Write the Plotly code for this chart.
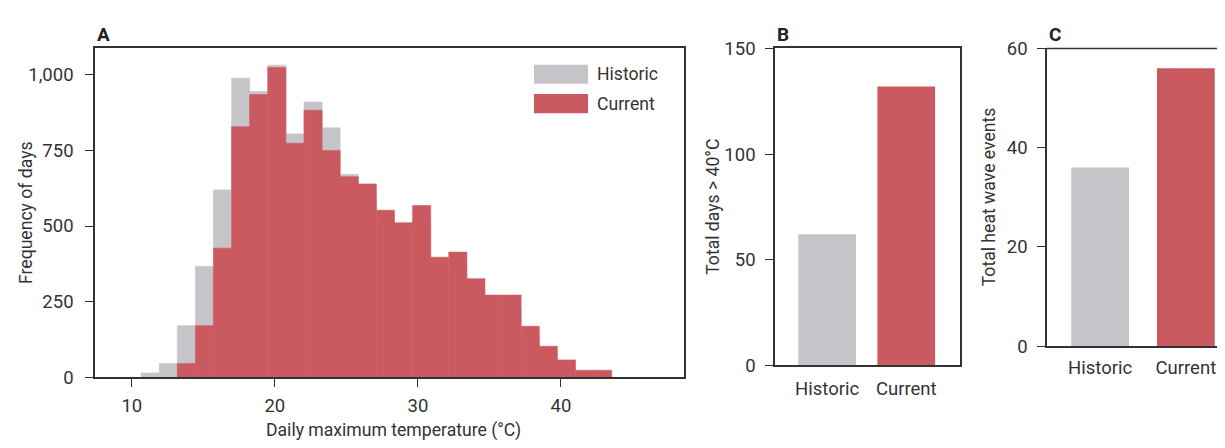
import plotly.graph_objects as go
from plotly.subplots import make_subplots

# Panel A: histogram of daily maximum temperature (bin left edges, degC)
bin_left = [10.65, 11.92, 13.18, 14.45, 15.71, 16.98, 18.24, 19.51, 20.77,
            22.04, 23.30, 24.57, 25.83, 27.10, 28.36, 29.63, 30.89, 32.16,
            33.42, 34.69, 35.95, 37.22, 38.48, 39.75, 41.01, 42.28]
bin_width = 1.265
historic_days = [15, 46, 171, 367, 619, 988, 944, 1031, 804, 909, 824, 670,
                 600, 520, 480, 520, 360, 370, 290, 240, 230, 140, 80, 40, 15, 8]
current_days = [0, 0, 46, 171, 427, 828, 934, 1023, 773, 882, 749, 663,
                639, 552, 511, 568, 397, 414, 326, 272, 272, 169, 103, 58, 24, 24]

# Panels B and C
groups = ["Historic", "Current"]
days_over_40 = [62, 132]
heat_wave_events = [36, 56]

GRAY = "#c4c4c9"
RED = "#cb5a60"
INK = "#333333"
FONT = "Roboto, Liberation Sans, Arial, sans-serif"
FS_TICK = 18.5
FS_TEXT = 17.6

fig = make_subplots(rows=1, cols=3)

# thin outline in the fill colour hides the seams between neighbouring bins
fig.add_trace(go.Bar(x=bin_left, y=historic_days, width=bin_width, offset=0,
                     marker=dict(color=GRAY, line=dict(width=0.6, color=GRAY)),
                     name="Historic", showlegend=False), row=1, col=1)
fig.add_trace(go.Bar(x=bin_left, y=current_days, width=bin_width, offset=0,
                     marker=dict(color=RED, line=dict(width=0.6, color=RED)),
                     name="Current", showlegend=False), row=1, col=1)
fig.add_trace(go.Bar(x=groups, y=days_over_40, width=0.73,
                     marker=dict(color=[GRAY, RED], line=dict(width=0)),
                     showlegend=False), row=1, col=2)
fig.add_trace(go.Bar(x=groups, y=heat_wave_events, width=0.674,
                     marker=dict(color=[GRAY, RED], line=dict(width=0)),
                     showlegend=False), row=1, col=3)

W, H = 1225, 448
axis_common = dict(showline=True, linecolor=INK, linewidth=1.5, showgrid=False,
                   zeroline=False, tickcolor=INK, tickwidth=1.2,
                   tickfont=dict(family=FONT, size=FS_TICK, color=INK))

fig.update_layout(
    width=W, height=H, margin=dict(l=0, r=0, t=0, b=0),
    plot_bgcolor="white", paper_bgcolor="white", barmode="overlay",
    font=dict(family=FONT, size=FS_TEXT, color=INK),
    xaxis=dict(domain=[87 / W, 676 / W], range=[7.43, 48.6], mirror=True,
               ticks="outside", ticklen=8, tickvals=[10, 20, 30, 40],
               ticklabelstandoff=3, **axis_common),
    yaxis=dict(domain=[(H - 377) / H, (H - 31) / H], range=[0, 1086], mirror=True,
               ticks="outside", ticklen=8, tickvals=[0, 250, 500, 750, 1000],
               tickformat=",", ticklabelstandoff=8, **axis_common),
    xaxis2=dict(domain=[767 / W, 952 / W], range=[-0.66, 1.68], mirror=True,
                ticks="", ticklabelstandoff=6, **axis_common),
    yaxis2=dict(domain=[(H - 364) / H, (H - 31) / H], range=[0, 150], mirror=True,
                ticks="outside", ticklen=8, tickvals=[0, 50, 100, 150],
                ticklabelstandoff=6, **axis_common),
    xaxis3=dict(domain=[1039 / W, 1.0], range=[-0.62, 1.55], mirror=False,
                ticks="", ticklabelstandoff=4, **axis_common),
    yaxis3=dict(domain=[(H - 344) / H, (H - 31) / H], range=[0, 60], mirror=False,
                ticks="outside", ticklen=8, tickvals=[0, 20, 40, 60],
                ticklabelstandoff=6, **axis_common),
)

# top border of panel C (cut at the right edge)
fig.add_shape(type="line", xref="x3 domain", yref="y3 domain", x0=0, x1=1, y0=1, y1=1,
              line=dict(color=INK, width=1.5))

# legend for panel A
for i, (name, col) in enumerate([("Historic", GRAY), ("Current", RED)]):
    fig.add_shape(type="rect", xref="paper", yref="paper",
                  x0=526 / W, x1=580 / W,
                  y0=(H - 68 - 31 * i) / H, y1=(H - 48 - 31 * i) / H,
                  fillcolor=col, line=dict(width=0))
    fig.add_annotation(text=name, xref="paper", yref="paper", x=587 / W,
                       y=(H - 58 - 31 * i) / H, xanchor="left", yanchor="middle",
                       showarrow=False, font=dict(size=FS_TEXT))

# axis titles
titles = [
    ("Frequency of days", 18, "y domain"),
    ("Total days > 40°C", 705, "y2 domain"),
    ("Total heat wave events", 981, "y3 domain"),
]
for text, px, yref in titles:
    fig.add_annotation(text=text, textangle=-90, xref="paper", yref=yref,
                       x=px / W, y=0.5, xanchor="center", yanchor="middle",
                       showarrow=False, font=dict(size=FS_TEXT))
fig.add_annotation(text="Daily maximum temperature (°C)", xref="paper", yref="paper",
                   x=385 / W, y=(H - 433) / H, xanchor="center", yanchor="middle",
                   showarrow=False, font=dict(size=FS_TEXT))

# panel letters
for letter, xref in [("A", "x domain"), ("B", "x2 domain"), ("C", "x3 domain")]:
    fig.add_annotation(text="<b>" + letter + "</b>", xref=xref, yref="paper",
                       x=0, y=(H - 16) / H, xanchor="left", yanchor="middle",
                       showarrow=False, font=dict(size=19, color="#222222"))

fig.write_html("out.html")
